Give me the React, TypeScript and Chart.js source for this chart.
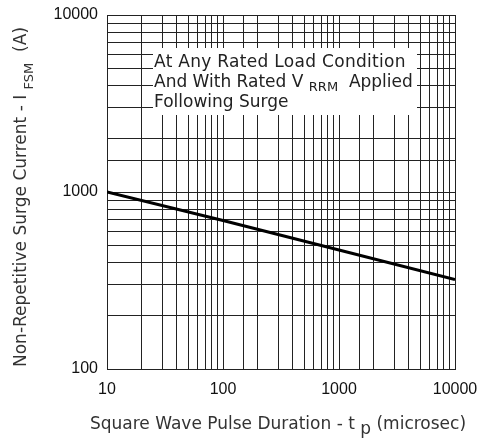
import { useEffect, useRef } from "react"
import { Chart, registerables } from "chart.js"

Chart.register(...registerables)

// pulse duration (microsec) and surge current (A)
const pulseDuration = [10, 100, 1000, 10000]
const surgeCurrent = [1000, 690, 470, 320]

const xTickLabels = ["10", "100", "1000", "10000"]
const yTickLabels = ["100", "1000", "10000"]

const noteLines = ["At Any Rated Load Condition", "And With Rated V", "Following Surge"]

const textFont = '"DejaVu Sans", sans-serif'
const gridColor = "#222"

type Part = { t: string; sub?: boolean }

// draws text pieces in a row, pieces flagged sub are smaller and lowered
function drawRun(ctx: CanvasRenderingContext2D, parts: Part[], x: number, y: number, size: number, subSize: number, drop = 4) {
  let cx = x
  for (const p of parts) {
    ctx.font = `${p.sub ? subSize : size}px ${textFont}`
    ctx.fillText(p.t, cx, p.sub ? y + drop : y)
    cx += ctx.measureText(p.t).width
  }
}

function runWidth(ctx: CanvasRenderingContext2D, parts: Part[], size: number, subSize: number) {
  let w = 0
  for (const p of parts) {
    ctx.font = `${p.sub ? subSize : size}px ${textFont}`
    w += ctx.measureText(p.t).width
  }
  return w
}

const textPlugin = {
  id: "surgeText",
  beforeDatasetsDraw(chart: Chart) {
    const ctx = chart.ctx as any
    ctx.save()
    ctx.fillStyle = "#fff"
    ctx.fillRect(153, 48, 264, 67)
    ctx.fillStyle = "#222"
    ctx.textBaseline = "alphabetic"
    ctx.textAlign = "left"
    ctx.letterSpacing = "0.3px"
    drawRun(ctx, [{ t: noteLines[0] }], 154, 67, 17, 13)
    ctx.letterSpacing = "0px"
    drawRun(ctx, [{ t: noteLines[1] + " " }, { t: "RRM", sub: true }, { t: "  Applied" }], 154, 87, 17, 13)
    drawRun(ctx, [{ t: noteLines[2] }], 154, 107, 17, 13)
    ctx.restore()
  },
  afterDraw(chart: Chart) {
    const ctx = chart.ctx
    ctx.save()
    ctx.fillStyle = "#333"
    ctx.textBaseline = "alphabetic"
    ctx.textAlign = "left"

    const xParts: Part[] = [{ t: "Square Wave Pulse Duration - t " }, { t: "p", sub: true }, { t: " (microsec)" }]
    const xw = runWidth(ctx, xParts, 17, 17)
    drawRun(ctx, xParts, 278 - xw / 2, 429, 17, 17, 5)

    const yParts: Part[] = [{ t: "Non-Repetitive Surge Current - I " }, { t: "FSM", sub: true }, { t: "  (A)" }]
    const yw = runWidth(ctx, yParts, 17, 13)
    ctx.translate(26, 197)
    ctx.rotate(-Math.PI / 2)
    drawRun(ctx, yParts, -yw / 2, 0, 17, 13, 7)
    ctx.restore()
  },
}

export default function App() {
  const chartRef = useRef<HTMLCanvasElement>(null)
  const chartInstance = useRef<Chart | null>(null)

  useEffect(() => {
    if (!chartRef.current) return

    if (chartInstance.current) {
      chartInstance.current.destroy()
    }

    chartInstance.current = new Chart(chartRef.current, {
      type: "line",
      data: {
        datasets: [
          {
            label: "IFSM",
            data: pulseDuration.map((x, i) => ({ x, y: surgeCurrent[i] })),
            borderColor: "#000",
            borderWidth: 3,
            pointRadius: 0,
            tension: 0,
            fill: false,
          },
        ],
      },
      options: {
        animation: false,
        responsive: true,
        maintainAspectRatio: false,
        layout: { padding: { top: 15, right: 27, left: 0, bottom: 0 } },
        scales: {
          x: {
            type: "logarithmic",
            min: 10,
            max: 10000,
            grid: { color: gridColor, lineWidth: 1, drawTicks: false },
            border: { color: gridColor },
            afterFit: (scale: any) => {
              scale.height = 70
              scale.paddingLeft = 0
              scale.paddingRight = 0
            },
            ticks: {
              padding: 11,
              color: "#111",
              font: { family: '"Liberation Sans", Arial, sans-serif', size: 16 },
              autoSkip: false,
              maxRotation: 0,
              callback: (v: any) => (xTickLabels.includes(String(v)) ? String(v) : ""),
            },
          },
          y: {
            type: "logarithmic",
            min: 100,
            max: 10000,
            grid: { color: gridColor, lineWidth: 1, drawTicks: false },
            border: { color: gridColor },
            afterFit: (scale: any) => {
              scale.width = 107
              scale.paddingTop = 0
              scale.paddingBottom = 0
            },
            ticks: {
              padding: 9,
              color: "#111",
              font: { family: '"Liberation Sans", Arial, sans-serif', size: 16 },
              autoSkip: false,
              callback: (v: any) => (yTickLabels.includes(String(v)) ? String(v) : ""),
            },
          },
        },
        plugins: {
          legend: { display: false },
          tooltip: { enabled: false },
        },
      },
      plugins: [textPlugin],
    })

    return () => {
      if (chartInstance.current) {
        chartInstance.current.destroy()
      }
    }
  }, [])

  return (
    <div style={{ position: "fixed", left: 0, top: 0, width: 482, height: 439, background: "#fff" }}>
      <canvas ref={chartRef}></canvas>
    </div>
  )
}
